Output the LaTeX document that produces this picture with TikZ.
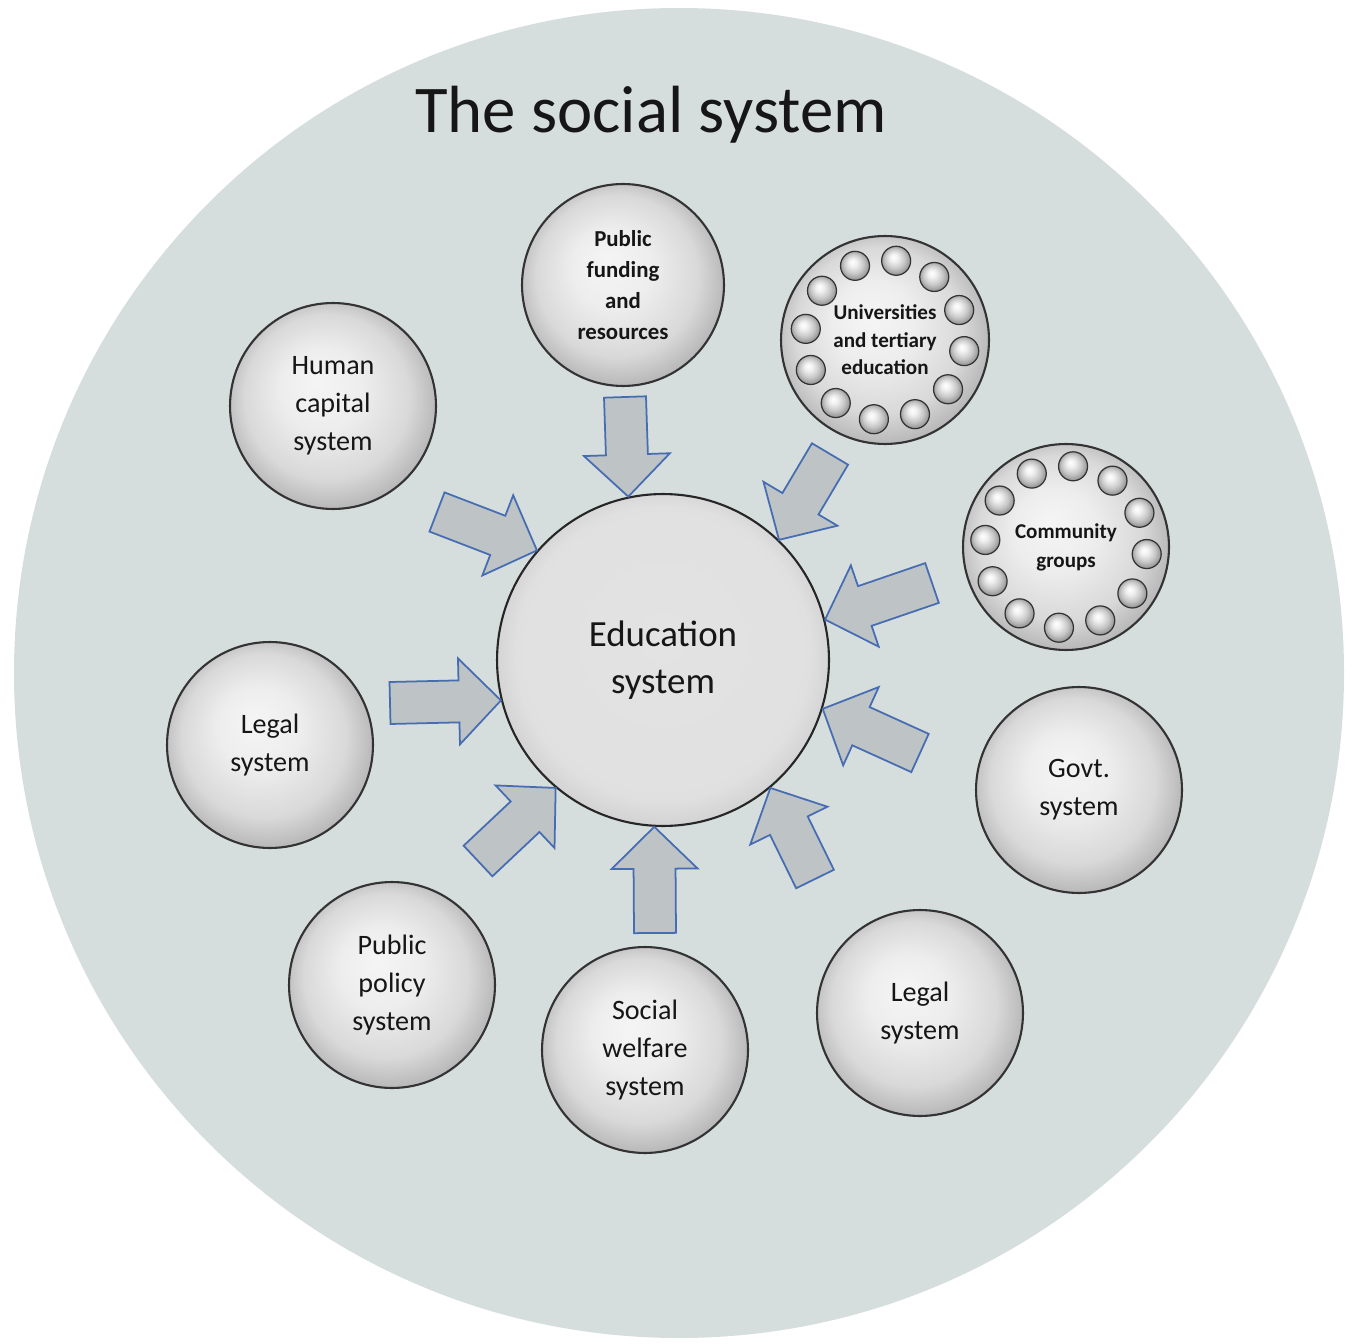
\documentclass[tikz,border=0pt]{standalone}
\usepackage{fontspec}
\setmainfont{Carlito}
\usetikzlibrary{calc}

\definecolor{sysbg}{RGB}{214,222,221}
\definecolor{flowfill}{RGB}{190,195,197}
\definecolor{flowline}{RGB}{70,108,178}
\definecolor{ink}{RGB}{22,22,22}

% shadings for the round buttons
\pgfdeclareradialshading{knob}{\pgfpoint{-4bp}{6bp}}{color(0bp)=(black!4); color(10bp)=(black!7); color(20bp)=(black!15); color(27bp)=(black!30); color(32bp)=(black!55)}
\pgfdeclareradialshading{hubshade}{\pgfpoint{0bp}{4bp}}{color(0bp)=(black!11); color(22bp)=(black!12); color(26bp)=(black!18); color(30bp)=(black!42)}
\pgfdeclareradialshading{pearlshade}{\pgfpoint{-5bp}{7bp}}{color(0bp)=(white); color(7bp)=(black!6); color(17bp)=(black!22); color(27bp)=(black!45); color(34bp)=(black!65)}

% block arrow from #1 (tail) to #2 (tip)
\newcommand{\inflow}[2]{%
  \path ($(#2)!0.84cm!(#1)$) coordinate (neck);
  \draw[flow] ($(#1)!0.42cm!90:(#2)$) -- ($(neck)!0.42cm!90:(#2)$) -- ($(neck)!0.86cm!90:(#2)$) -- (#2)
    -- ($(neck)!0.86cm!-90:(#2)$) -- ($(neck)!0.42cm!-90:(#2)$) -- ($(#1)!0.42cm!-90:(#2)$) -- cycle;}

\begin{document}
\begin{tikzpicture}[x=0.02cm, y=-0.02cm, text=ink,
  sat/.style={circle, draw=black!80, line width=1.2pt, shading=knob, minimum size=4.12cm, inner sep=0pt, align=center, font=\fontsize{16}{21.5}\selectfont},
  satb/.style={sat, font=\bfseries\fontsize{13}{17.6}\selectfont},
  pearl/.style={circle, draw=black!80, line width=0.7pt, shading=pearlshade, minimum size=0.58cm, inner sep=0pt},
  flow/.style={draw=flowline, line width=1pt, fill=flowfill, line join=miter}]

\useasboundingbox (0,0) rectangle (1358,1344);
\fill[sysbg] (679,673) circle[radius=665];

\node[font=\fontsize{38}{40}\selectfont] (title) at (651,115) {The social system};

% centre
\node[circle, draw=black!85, line width=1.2pt, shading=hubshade, minimum size=6.64cm, inner sep=0pt, align=center,
  font=\fontsize{21}{27}\selectfont] (edu) at (663,660) {Education\\system};

% satellites
\node[satb, minimum size=4.04cm] (fund) at (623,285) {Public\\funding\\and\\resources};
\node[satb, minimum size=4.16cm, font=\bfseries\fontsize{12}{15.6}\selectfont] (uni) at (885,340) {Universities\\and tertiary\\education};
\node[satb, font=\bfseries\fontsize{12}{16.4}\selectfont] (comm) at (1066,547) {Community\\groups};
\node[sat] (human) at (333,406) {Human\\capital\\system};
\node[sat] (legalL) at (270,745) {Legal\\system};
\node[sat] (govt) at (1079,790) {Govt.\\system};
\node[sat] (policy) at (392,985) {Public\\policy\\system};
\node[sat] (welfare) at (645,1050) {Social\\welfare\\system};
\node[sat] (legalR) at (920,1013) {Legal\\system};

% small balls round the two group circles
\foreach \a in {0,30,...,330} {
  \node[pearl] (u\a) at ($(uni)+(\a-82:80)$) {};
  \node[pearl] (c\a) at ($(comm)+(\a-85:81)$) {};
}

% tails of the arrows
\coordinate (tFund) at (625,397);
\coordinate (tUni) at (830,454);
\coordinate (tComm) at (932,583);
\coordinate (tGovt) at (920,753);
\coordinate (tLegalR) at (815,879);
\coordinate (tWelfare) at (655,933);
\coordinate (tPolicy) at (478,861);
\coordinate (tLegalL) at (390,703);
\coordinate (tHuman) at (437,512);

\inflow{tFund}{edu.102}
\inflow{tUni}{edu.46}
\inflow{tComm}{edu.14}
\inflow{tGovt}{edu.-17}
\inflow{tLegalR}{edu.-50}
\inflow{tWelfare}{edu.-93}
\inflow{tPolicy}{edu.-130}
\inflow{tLegalL}{edu.-166}
\inflow{tHuman}{edu.139}

\end{tikzpicture}
\end{document}
